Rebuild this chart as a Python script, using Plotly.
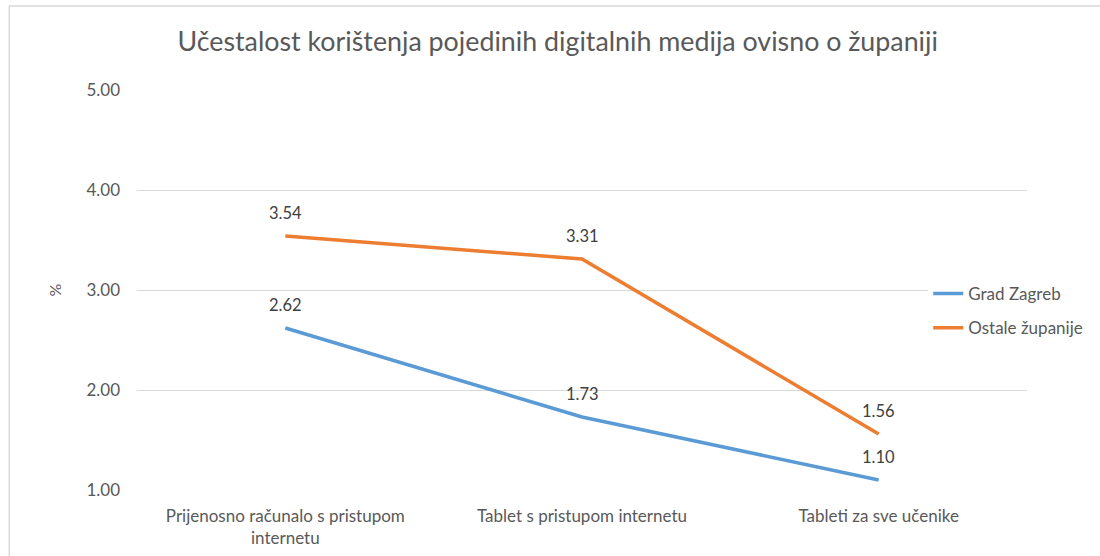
import plotly.graph_objects as go

categories = ["Prijenosno računalo s pristupom<br>internetu", "Tablet s pristupom internetu", "Tableti za sve učenike"]
grad_zagreb = [2.62, 1.73, 1.10]
ostale_zupanije = [3.54, 3.31, 1.56]
series_names = ["Grad Zagreb", "Ostale županije"]
colors = ["#5B9BD5", "#ED7D31"]
y_ticks = [1, 2, 3, 4, 5]

FONT = "Lato, Carlito, Calibri, sans-serif"
TXT = "#595959"

fig = go.Figure()
for i, (name, vals) in enumerate(zip(series_names, [grad_zagreb, ostale_zupanije])):
    fig.add_trace(go.Scatter(
        x=categories, y=vals, mode="lines", name=name,
        line=dict(color=colors[i], width=3.5),
        legendgroup=name, hoverinfo="skip"))

annotations = []
for vals in [grad_zagreb, ostale_zupanije]:
    for c, v in zip(categories, vals):
        annotations.append(dict(x=c, y=v, xref="x", yref="y", text=f"{v:.2f}",
                                showarrow=False, yshift=23,
                                font=dict(family=FONT, size=16.5, color="#404040")))

fig.update_layout(
    width=1100, height=556,
    margin=dict(l=137, r=71, t=90, b=66),
    paper_bgcolor="white", plot_bgcolor="white",
    font=dict(family=FONT, color=TXT),
    title=dict(text="Učestalost korištenja pojedinih digitalnih medija ovisno o županiji",
               x=0.507, xref="container", xanchor="center",
               y=1 - 42/556, yref="container", yanchor="middle",
               font=dict(family=FONT, size=26.8, color=TXT)),
    xaxis=dict(type="category", range=[-0.5, 2.5], showgrid=False, showline=False,
               ticks="", ticklabelstandoff=14, automargin=False,
               tickfont=dict(family=FONT, size=17, color=TXT)),
    yaxis=dict(range=[1, 5], tickvals=y_ticks, tickformat=".2f", showgrid=True,
               gridcolor="#D9D9D9", gridwidth=1, zeroline=False, showline=False,
               ticks="", ticklabelstandoff=16, automargin=False,
               tickfont=dict(family=FONT, size=17, color=TXT),
               title=dict(text="%", standoff=20, font=dict(family=FONT, size=16, color=TXT))),
    legend=dict(x=(930-137)/892, y=(490-276)/400, xanchor="left", yanchor="top",
                bgcolor="white", tracegroupgap=9,
                font=dict(family=FONT, size=17, color=TXT)),
    annotations=annotations,
    shapes=[dict(type="rect", xref="paper", yref="paper",
                 x0=(9-137)/892, x1=(1120-137)/892, y0=(490-570)/400, y1=(490-6)/400,
                 line=dict(color="#D9D9D9", width=1.5), fillcolor="rgba(0,0,0,0)", layer="below")],
)

fig.write_html("out.html", config={"displayModeBar": False},
               post_script="document.body.style.margin='0';document.body.style.overflow='hidden';")
